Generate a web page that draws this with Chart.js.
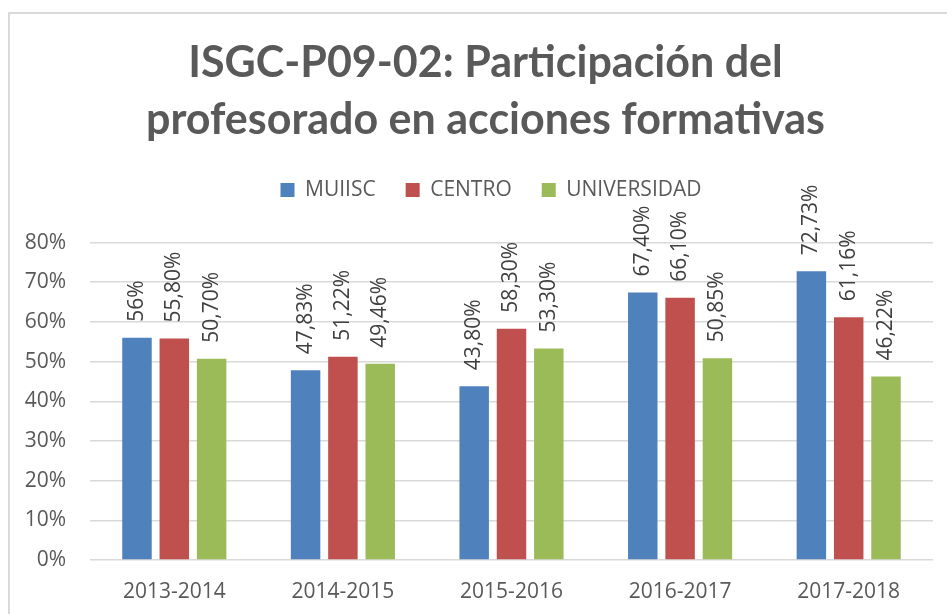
<!DOCTYPE html>
<html>
<head>
<meta charset="utf-8">
<script src="https://cdn.jsdelivr.net/npm/chart.js@4.4.0/dist/chart.umd.min.js"></script>
<style>
  html, body { margin: 0; padding: 0; background: #ffffff; overflow: hidden; }
  #wrap { position: relative; width: 947px; height: 614px; }
  #marco { position: absolute; left: 8px; top: 12px; width: 1000px; height: 700px; border: 2px solid #d9d9d9; }
  canvas { position: absolute; left: 0; top: 0; }
</style>
</head>
<body>
<div id="wrap">
  <div id="marco"></div>
  <canvas id="grafico" width="947" height="614"></canvas>
</div>
<script>
// Datos
const cursos = ['2013-2014', '2014-2015', '2015-2016', '2016-2017', '2017-2018'];
const muiisc = [56, 47.83, 43.80, 67.40, 72.73];
const centro = [55.80, 51.22, 58.30, 66.10, 61.16];
const universidad = [50.70, 49.46, 53.30, 50.85, 46.22];
const etiquetasMuiisc = ['56%', '47,83%', '43,80%', '67,40%', '72,73%'];
const etiquetasCentro = ['55,80%', '51,22%', '58,30%', '66,10%', '61,16%'];
const etiquetasUniversidad = ['50,70%', '49,46%', '53,30%', '50,85%', '46,22%'];
const ticksY = [0, 10, 20, 30, 40, 50, 60, 70, 80];

document.addEventListener('DOMContentLoaded', () => {
    const ctx = document.getElementById('grafico').getContext('2d');
    const gris = '#595959';

    // Etiquetas de valor giradas encima de cada barra
    const etiquetasPlugin = {
        id: 'etiquetasBarras',
        afterDatasetsDraw(chart) {
            const c = chart.ctx;
            chart.data.datasets.forEach((ds, i) => {
                const meta = chart.getDatasetMeta(i);
                meta.data.forEach((bar, j) => {
                    c.save();
                    c.translate(bar.x, bar.y - 16);
                    c.rotate(-Math.PI / 2);
                    c.font = '21px "Open Sans"';
                    c.fillStyle = '#404040';
                    c.textAlign = 'left';
                    c.textBaseline = 'middle';
                    c.fillText(ds.etiquetas[j], 0, 0);
                    c.restore();
                });
            });
        }
    };

    // Espacio extra debajo de la leyenda y centrado como en el original
    const ajusteCabecera = {
        id: 'ajusteCabecera',
        beforeInit(chart) {
            const fitOriginal = chart.legend.fit;
            chart.legend.fit = function () {
                fitOriginal.bind(chart.legend)();
                this.height += 32;
            };
        },
        afterLayout(chart) {
            chart.titleBlock.left += 38;
            chart.legend.left += 49;
        }
    };

    new Chart(ctx, {
        type: 'bar',
        data: {
            labels: cursos,
            datasets: [
                { label: 'MUIISC', data: muiisc, etiquetas: etiquetasMuiisc, backgroundColor: '#4F81BD' },
                { label: 'CENTRO', data: centro, etiquetas: etiquetasCentro, backgroundColor: '#C0504D' },
                { label: 'UNIVERSIDAD', data: universidad, etiquetas: etiquetasUniversidad, backgroundColor: '#9BBB59' }
            ]
        },
        options: {
            responsive: false,
            animation: false,
            categoryPercentage: 0.664,
            barPercentage: 0.79,
            layout: { padding: { left: 0, right: 14, top: 0, bottom: 0 } },
            plugins: {
                tooltip: { enabled: false },
                title: {
                    display: true,
                    text: ['ISGC-P09-02: Participación del', 'profesorado en acciones formativas'],
                    color: gris,
                    font: { family: 'Lato', size: 43, weight: 'bold', lineHeight: 1.32 },
                    padding: { top: 35, bottom: 1 }
                },
                legend: {
                    display: true,
                    position: 'top',
                    labels: {
                        color: gris,
                        font: { family: 'Open Sans', size: 21 },
                        boxWidth: 14,
                        boxHeight: 14,
                        padding: 30
                    }
                }
            },
            scales: {
                x: {
                    grid: { display: false },
                    border: { display: false },
                    ticks: { color: gris, font: { family: 'Open Sans', size: 21 }, padding: 11 },
                    afterFit: (scale) => { scale.height = 54; }
                },
                y: {
                    min: 0,
                    max: 80,
                    afterBuildTicks: (scale) => { scale.ticks = ticksY.map(v => ({ value: v })); },
                    grid: { color: '#d9d9d9', lineWidth: 1.5, drawTicks: false },
                    border: { display: false },
                    ticks: {
                        color: gris,
                        font: { family: 'Open Sans', size: 21 },
                        padding: 24,
                        callback: (v) => v + '%'
                    },
                    afterFit: (scale) => { scale.width = 90; }
                }
            }
        },
        plugins: [etiquetasPlugin, ajusteCabecera]
    });
});
</script>
</body>
</html>
